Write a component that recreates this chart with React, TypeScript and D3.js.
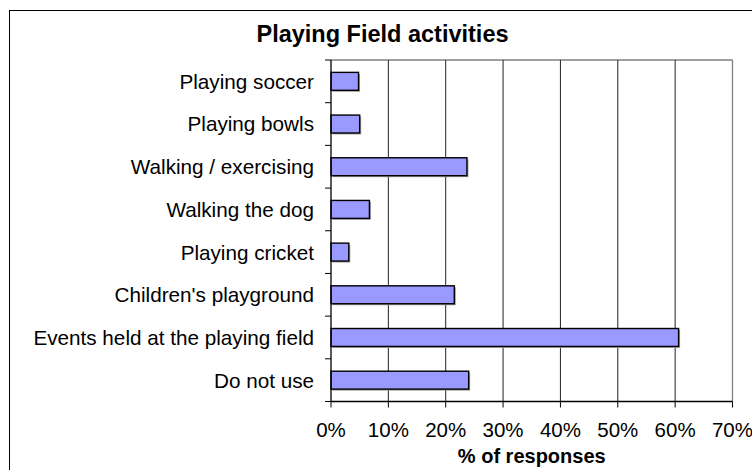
import React from "react";
import * as d3 from "d3";

const categories = [
  "Playing soccer",
  "Playing bowls",
  "Walking / exercising",
  "Walking the dog",
  "Playing cricket",
  "Children's playground",
  "Events held at the playing field",
  "Do not use",
];
const values = [4.8, 5.0, 23.7, 6.7, 3.1, 21.5, 60.6, 24.0];
const xTicks = [0, 10, 20, 30, 40, 50, 60, 70];
const title = "Playing Field activities";
const xTitle = "% of responses";

const W = 752;
const H = 470;
const plot = { left: 331, right: 732.5, top: 60, bottom: 401.5 };
const font = "Arial, 'Liberation Sans', sans-serif";

export default function App() {
  const x = d3.scaleLinear().domain([0, 70]).range([plot.left, plot.right]);
  const y = d3
    .scaleBand<string>()
    .domain(categories)
    .range([plot.top, plot.bottom])
    .paddingInner(0.58)
    .paddingOuter(0.29);
  const step = (plot.bottom - plot.top) / categories.length;
  const bounds = d3.range(categories.length + 1).map((i) => plot.top + i * step);

  return (
    <svg
      width={W}
      height={H}
      style={{ position: "absolute", left: 0, top: 0, background: "#fff" }}
      fontFamily={font}
    >
      <rect x={9.5} y={10.5} width={800} height={500} fill="#fff" stroke="#000" strokeWidth={1} />
      <text x={382.5} y={41.7} textAnchor="middle" fontSize={23.5} fontWeight="bold" fill="#000">
        {title}
      </text>
      {/* plot border (top/right) */}
      <line x1={plot.left} x2={plot.right} y1={plot.top} y2={plot.top} stroke="#808080" strokeWidth={1.3} />
      <line x1={plot.right} x2={plot.right} y1={plot.top} y2={plot.bottom} stroke="#808080" strokeWidth={1.3} />
      {/* gridlines */}
      {xTicks.slice(1, -1).map((t) => (
        <line key={t} x1={x(t)} x2={x(t)} y1={plot.top} y2={plot.bottom} stroke="#222" strokeWidth={1} />
      ))}
      {/* bars with shadow */}
      {values.map((v, i) => {
        const yy = y(categories[i])!;
        const bw = x(v) - x(0);
        return (
          <g key={i}>
            <rect x={x(0) + 1.5} y={yy + 1.5} width={bw} height={y.bandwidth()} fill="#a0a0a0" />
            <rect
              x={x(0)}
              y={yy}
              width={bw}
              height={y.bandwidth()}
              fill="#9999FF"
              stroke="#000"
              strokeWidth={1.4}
            />
          </g>
        );
      })}
      {/* y axis */}
      <line x1={plot.left} x2={plot.left} y1={plot.top} y2={plot.bottom} stroke="#000" strokeWidth={1.3} />
      {bounds.map((b, i) => (
        <line key={i} x1={plot.left - 6} x2={plot.left} y1={b} y2={b} stroke="#000" strokeWidth={1} />
      ))}
      {categories.map((c) => (
        <text
          key={c}
          x={314}
          y={y(c)! + y.bandwidth() / 2}
          dy="0.36em"
          textAnchor="end"
          fontSize={20.7}
          fill="#000"
        >
          {c}
        </text>
      ))}
      {/* x axis */}
      <line x1={plot.left} x2={plot.right} y1={plot.bottom} y2={plot.bottom} stroke="#000" strokeWidth={1.3} />
      {xTicks.map((t) => (
        <g key={t}>
          <line x1={x(t)} x2={x(t)} y1={plot.bottom} y2={plot.bottom + 6} stroke="#000" strokeWidth={1} />
          <text x={x(t)} y={437} textAnchor="middle" fontSize={20.5} fill="#000">
            {t}%
          </text>
        </g>
      ))}
      <text x={(plot.left + plot.right) / 2} y={463} textAnchor="middle" fontSize={20} fontWeight="bold" fill="#000">
        {xTitle}
      </text>
    </svg>
  );
}
